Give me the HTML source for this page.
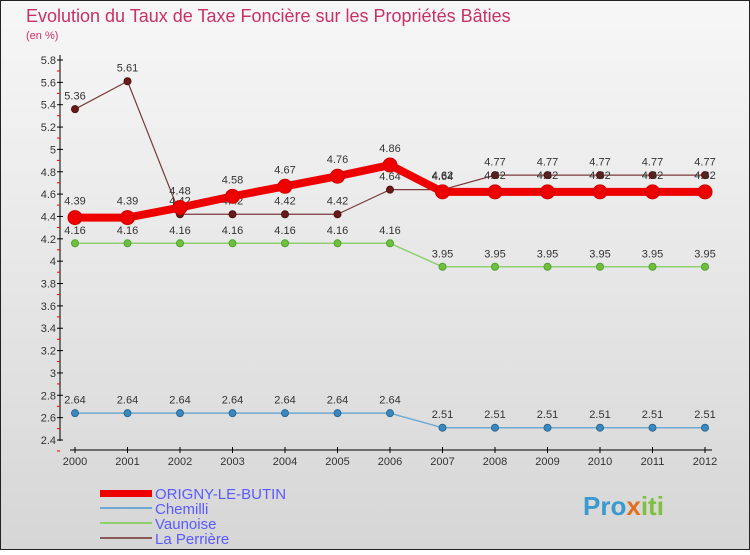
<!DOCTYPE html>
<html><head><meta charset="utf-8"><style>
html,body{margin:0;padding:0}
body{width:750px;height:550px;overflow:hidden;font-family:"Liberation Sans",sans-serif}
</style></head><body>
<svg id="chart" width="750" height="550" xmlns="http://www.w3.org/2000/svg" font-family="Liberation Sans, sans-serif">
<defs><linearGradient id="bg" x1="0" y1="0" x2="0" y2="1"><stop offset="0" stop-color="#f7f7f7"/><stop offset="1" stop-color="#d6d6d6"/></linearGradient></defs>
<rect x="0.5" y="0.5" width="749" height="549" fill="url(#bg)" stroke="#222"/>
<text x="26" y="22" font-size="18" fill="#c83068">Evolution du Taux de Taxe Foncière sur les Propriétés Bâties</text>
<text x="26" y="39" font-size="11" fill="#c83068">(en %)</text>
<g id="axes"></g>
<g id="series"></g>
<g>
<rect x="100" y="490" width="52" height="7" fill="#ee0000"/>
<line x1="100" y1="508" x2="152" y2="508" stroke="#6fa8d0" stroke-width="2"/>
<line x1="100" y1="523" x2="152" y2="523" stroke="#8fd070" stroke-width="2"/>
<line x1="100" y1="538" x2="152" y2="538" stroke="#8a5a5a" stroke-width="2"/>
<text x="155" y="499" font-size="15" fill="#5a5aff">ORIGNY-LE-BUTIN</text>
<text x="155" y="514" font-size="15" fill="#5a5aff">Chemilli</text>
<text x="155" y="529" font-size="15" fill="#5a5aff">Vaunoise</text>
<text x="155" y="544" font-size="15" fill="#5a5aff">La Perrière</text>
</g>
<text x="583" y="515" font-size="26" font-weight="bold" fill="#3a9ad0">Pro<tspan fill="#e07020">x</tspan><tspan fill="#80c040">iti</tspan></text>
</svg>
<script>
const years=[2000,2001,2002,2003,2004,2005,2006,2007,2008,2009,2010,2011,2012];
const yTicks=[2.4,2.6,2.8,3,3.2,3.4,3.6,3.8,4,4.2,4.4,4.6,4.8,5,5.2,5.4,5.6,5.8];
const origny=[4.39,4.39,4.48,4.58,4.67,4.76,4.86,4.62,4.62,4.62,4.62,4.62,4.62];
const chemilli=[2.64,2.64,2.64,2.64,2.64,2.64,2.64,2.51,2.51,2.51,2.51,2.51,2.51];
const vaunoise=[4.16,4.16,4.16,4.16,4.16,4.16,4.16,3.95,3.95,3.95,3.95,3.95,3.95];
const perriere=[5.36,5.61,4.42,4.42,4.42,4.42,4.64,4.64,4.77,4.77,4.77,4.77,4.77];
const NS="http://www.w3.org/2000/svg";
const X=i=>75+i*52.5;
const Y=v=>60+(5.8-v)*(380/3.4);
function mk(t,a,p){const e=document.createElementNS(NS,t);for(const k in a)e.setAttribute(k,a[k]);p.appendChild(e);return e;}
const ax=document.getElementById('axes');
let l=mk('line',{x1:60,y1:55,x2:60,y2:441,stroke:'#000'},ax);


yTicks.forEach(v=>{
  mk('line',{x1:57,y1:Y(v),x2:63,y2:Y(v),stroke:'#000'},ax);
  mk('line',{x1:57,y1:Y(v)+11,x2:60,y2:Y(v)+11,stroke:'#e00'},ax);
  const t=mk('text',{x:56,y:Y(v)+4,'font-size':11,fill:'#333','text-anchor':'end'},ax);
  t.textContent=String(v);
  
  
});
l=mk('line',{x1:70,y1:450,x2:712,y2:450,stroke:'#000'},ax);


years.forEach((yr,i)=>{
  mk('line',{x1:X(i),y1:447,x2:X(i),y2:453,stroke:'#000'},ax);
  const t=mk('text',{x:X(i),y:465,'font-size':11,fill:'#333','text-anchor':'middle'},ax);
  t.textContent=yr;
  
  
});
const sg=document.getElementById('series');
function series(name,vals,color,w,r,dot,stroke){
  const g=mk('g',{},sg);
  
  
  const pl=mk('polyline',{points:vals.map((v,i)=>X(i)+','+Y(v)).join(' '),fill:'none',stroke:color,'stroke-width':w,'stroke-linejoin':'round'},g);
  
  
  vals.forEach((v,i)=>{
    const c=mk('circle',{cx:X(i),cy:Y(v),r:r,fill:dot,stroke:stroke,'stroke-width':1},g);
    
    
    const t=mk('text',{x:X(i),y:Y(v)-(r+6),'font-size':11,fill:'#333','text-anchor':'middle'},g);
    t.textContent=String(v);
    
    
  });
}
series('chemilli',chemilli,'#6fa8d0',1.5,3.5,'#3a88c0','#2a6890');
series('vaunoise',vaunoise,'#8fd070',1.5,3.5,'#70c040','#50a030');
series('la-perriere',perriere,'#7a3a3a',1.2,3.5,'#6a1a1a','#4a1010');
series('origny',origny,'#ee0000',8,7,'#ee0000','#cc0000');
</script>
</body></html>
